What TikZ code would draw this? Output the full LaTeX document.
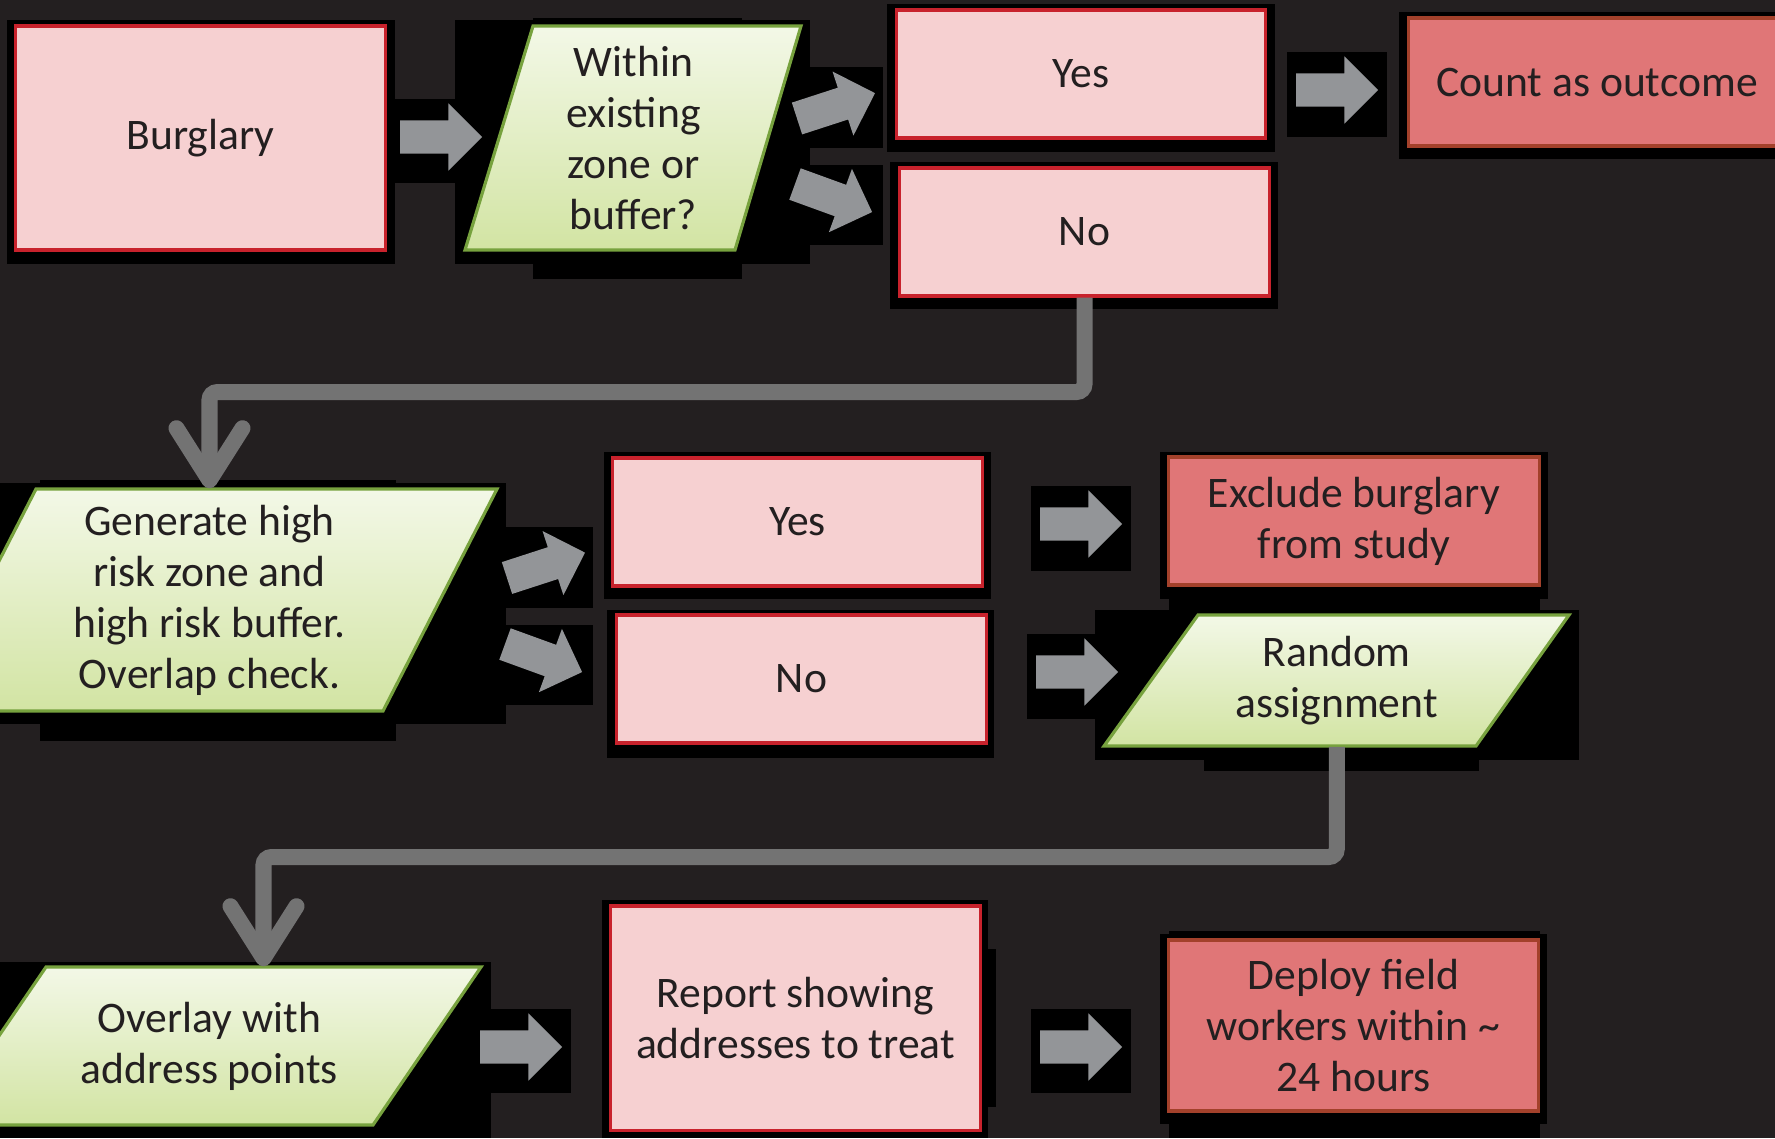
\documentclass[tikz,border=0pt]{standalone}
\usepackage{fontspec}
\setmainfont{Carlito}
\usetikzlibrary{arrows.meta, positioning, calc, shapes.arrows}

\definecolor{bgdark}{HTML}{231F20}
\definecolor{ink}{HTML}{231F20}
\definecolor{pinkfill}{HTML}{F6D0D1}
\definecolor{pinkline}{HTML}{C8222C}
\definecolor{redfill}{HTML}{E07677}
\definecolor{redline}{HTML}{A3412B}
\definecolor{greentop}{HTML}{F3F8E7}
\definecolor{greenbot}{HTML}{D2E4A3}
\definecolor{greenline}{HTML}{77A23E}
\definecolor{arrowgray}{HTML}{939598}
\definecolor{linkgray}{HTML}{737373}

\newcommand{\boxfont}{\fontsize{12.4}{14.5}\selectfont}

\begin{document}
\begin{tikzpicture}[
  x=0.01cm, y=-0.01cm,
  box/.style={
    draw=pinkline,
    fill=pinkfill,
    line width=0.9pt,
    minimum width=3.69cm,
    minimum height=1.28cm,
    inner sep=0pt,
    align=center,
    text=ink,
    font=\boxfont
  },
  endbox/.style={box, draw=redline, fill=redfill},
  paratext/.style={inner sep=0pt, align=center, text=ink, font=\boxfont},
  para/.style={draw=greenline, line width=0.9pt, top color=greentop, bottom color=greenbot},
  backing/.style={fill=black},
  blockarrow/.style={
    single arrow,
    anchor=tail,
    fill=arrowgray,
    minimum height=0.82cm,
    inner xsep=0pt,
    inner ysep=0.16cm,
    outer sep=0pt,
    single arrow head extend=0.17cm,
    single arrow tip angle=90
  },
  link/.style={
    draw=linkgray,
    line width=0.16cm,
    rounded corners=0.08cm,
    -{Straight Barb[length=0.52cm, width=0.66cm, round]}
  }
]

\useasboundingbox (0,0) rectangle (1775,1138);
\fill[bgdark] (0,0) rectangle (1775,1138);

% Black backings, first row
\fill[backing] (7,20) rectangle (395,264);
\fill[backing] (395,99) rectangle (491,183);
\fill[backing] (455,20) rectangle (810,264);
\fill[backing] (533,18) rectangle (742,279);
\fill[backing] (783,67) rectangle (883,148);
\fill[backing] (781,165) rectangle (883,245);
\fill[backing] (887,4) rectangle (1275,152);
\fill[backing] (890,162) rectangle (1278,309);
\fill[backing] (1287,52) rectangle (1387,137);
\fill[backing] (1399,12) rectangle (1775,159);

% Black backings, second row
\fill[backing] (0,483) rectangle (506,724);
\fill[backing] (40,480) rectangle (396,741);
\fill[backing] (493,527) rectangle (593,608);
\fill[backing] (492,625) rectangle (593,705);
\fill[backing] (604,452) rectangle (991,599);
\fill[backing] (607,610) rectangle (994,758);
\fill[backing] (1031,486) rectangle (1131,571);
\fill[backing] (1027,634) rectangle (1127,719);
\fill[backing] (1160,452) rectangle (1548,599);
\fill[backing] (1169,452) rectangle (1540,610);
\fill[backing] (1095,610) rectangle (1579,760);
\fill[backing] (1204,610) rectangle (1479,771);

% Black backings, third row
\fill[backing] (0,962) rectangle (491,1138);
\fill[backing] (471,1009) rectangle (571,1093);
\fill[backing] (602,900) rectangle (988,1138);
\fill[backing] (602,949) rectangle (996,1107);
\fill[backing] (1031,1009) rectangle (1131,1093);
\fill[backing] (1160,934) rectangle (1547,1124);
\fill[backing] (1169,931) rectangle (1540,1138);

% Block arrows (placed by their tails)
\node[blockarrow] (arrA) at (400,137) {};
\node[blockarrow, rotate=18] (arrB) at (797,118.5) {};
\node[blockarrow, rotate=-20] (arrC) at (795,184) {};
\node[blockarrow] (arrD) at (1296,90) {};
\node[blockarrow, rotate=18] (arrE) at (507,578) {};
\node[blockarrow, rotate=-20] (arrF) at (505,644) {};
\node[blockarrow] (arrG) at (1040,524) {};
\node[blockarrow] (arrH) at (1036,672) {};
\node[blockarrow] (arrI) at (480,1047) {};
\node[blockarrow] (arrJ) at (1040,1047) {};

% Parallelograms
\path[para] (533,26) -- (801,26) -- (735,250) -- (465,250) -- cycle;
\path[para] (36,489) -- (497,489) -- (383,711) -- (-78,711) -- cycle;
\path[para] (1198,615) -- (1569,615) -- (1476,746) -- (1104,746) -- cycle;
\path[para] (46,967) -- (481,967) -- (373,1125) -- (-62,1125) -- cycle;

% First row
\node[box, minimum height=2.24cm] (burglary) at (200.5,138) {Burglary};
\node[paratext, minimum height=2.24cm] (within) at (633.5,138) {Within\\existing\\zone or\\buffer?};
\node[box, minimum width=3.68cm] (yes1) at (1081,74) {Yes};
\node[box] (no1) at (1084.5,232) {No};
\node[endbox, minimum width=3.76cm] (count) at (1597,82) {Count as outcome};

% Second row
\node[paratext, minimum height=2.22cm] (gen) at (209.5,600) {Generate high\\risk zone and\\high risk buffer.\\Overlap check.};
\node[box] (yes2) at (797.5,522) {Yes};
\node[box] (no2) at (801.5,679) {No};
\node[endbox, minimum width=3.70cm] (excl) at (1354,521) {Exclude burglary\\from study};
\node[paratext, minimum height=1.31cm] (rand) at (1336.75,680.5) {Random\\assignment};

% Third row
\node[paratext, minimum height=1.58cm] (ovl) at (209.5,1046) {Overlay with\\address points};
\node[box, minimum height=2.24cm] (report) at (795.5,1018) {Report showing\\addresses to treat};
\node[endbox, minimum height=1.71cm] (deploy) at (1353.5,1025.5) {Deploy field\\workers within \textasciitilde\\24 hours};

% Connectors between rows
\coordinate (bendA) at (0,392);
\coordinate (bendB) at (0,857);
\draw[link] (no1.south) -- (no1.south |- bendA) -| (gen.north);
\draw[link] (rand.south) -- (rand.south |- bendB) -| ($(ovl.north)+(54,0)$);

\end{tikzpicture}
\end{document}
